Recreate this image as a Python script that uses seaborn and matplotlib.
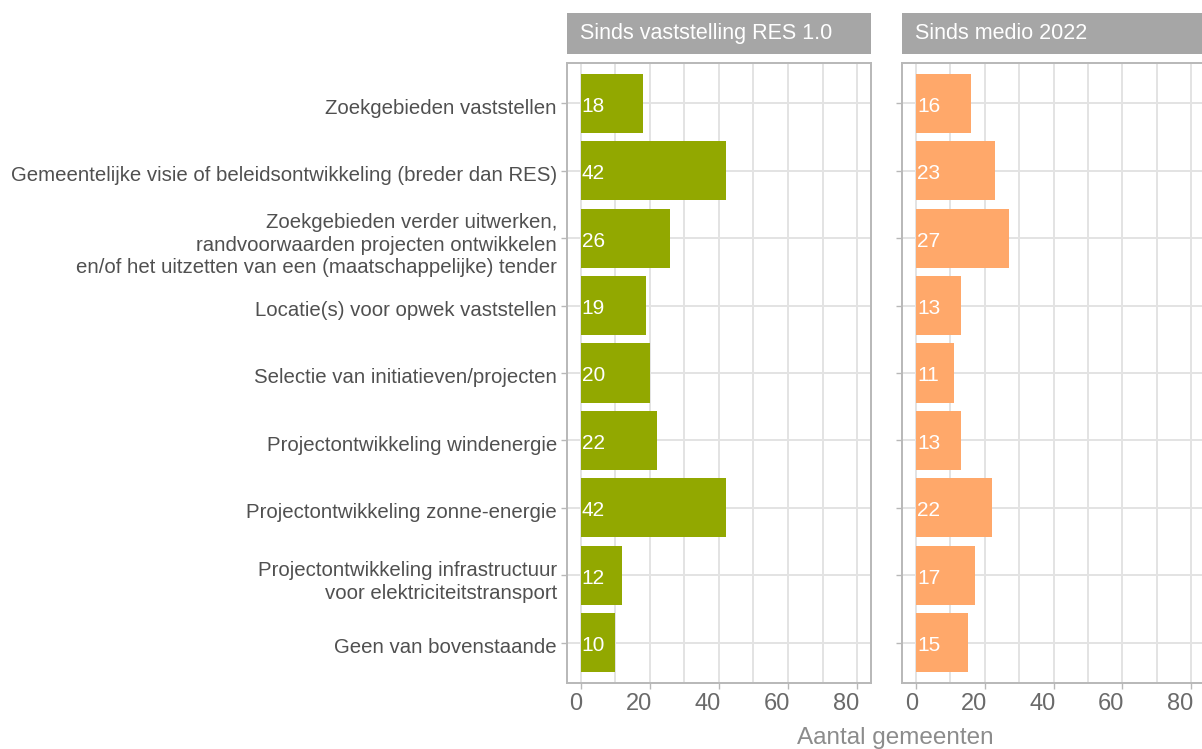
import numpy as np
import pandas as pd
import matplotlib
matplotlib.use("Agg")
import matplotlib.pyplot as plt
import matplotlib.transforms as mtransforms
from matplotlib.patches import Rectangle
import seaborn as sns

categories = [
    "Zoekgebieden vaststellen",
    "Gemeentelijke visie of beleidsontwikkeling (breder dan RES)",
    "Zoekgebieden verder uitwerken,\nrandvoorwaarden projecten ontwikkelen\nen/of het uitzetten van een (maatschappelijke) tender",
    "Locatie(s) voor opwek vaststellen",
    "Selectie van initiatieven/projecten",
    "Projectontwikkeling windenergie",
    "Projectontwikkeling zonne-energie",
    "Projectontwikkeling infrastructuur\nvoor elektriciteitstransport",
    "Geen van bovenstaande",
]
res_values = [18, 42, 26, 19, 20, 22, 42, 12, 10]
medio_values = [16, 23, 27, 13, 11, 13, 22, 17, 15]
panel_titles = ["Sinds vaststelling RES 1.0", "Sinds medio 2022"]
bar_colors = ["#92A800", "#FFA86A"]
x_ticks = [0, 20, 40, 60, 80]

sns.set_theme(style="white")
plt.rcParams["font.family"] = ["Liberation Sans", "DejaVu Sans"]

W, H = 1202, 749
fig = plt.figure(figsize=(W / 100, H / 100), dpi=100)

# panel boxes in pixels (left, right, top, bottom)
boxes = [(566.7, 871.0, 63, 683), (902.3, 1205.0, 63, 683)]
axes = []
for (l, r, t, b) in boxes:
    axes.append(fig.add_axes([l / W, (H - b) / H, (r - l) / W, (b - t) / H]))

grid_col = "#E3E3E3"
down = mtransforms.ScaledTranslation(0, -3 / 100, fig.dpi_scale_trans)
for i, (ax, vals) in enumerate(zip(axes, [res_values, medio_values])):
    df = pd.DataFrame({"cat": categories, "n": vals})
    sns.barplot(data=df, x="n", y="cat", order=categories, orient="h",
                color=bar_colors[i], saturation=1, width=0.88, linewidth=0,
                ax=ax, zorder=3)
    ax.set_xlim(-4, 84)
    ax.set_ylim(len(categories) - 0.4, -0.6)
    ax.set_xticks(x_ticks)
    ax.set_xticks([10, 30, 50, 70], minor=True)
    ax.grid(True, which="both", axis="x", color=grid_col, lw=1.4, zorder=0)
    ax.grid(True, which="major", axis="y", color=grid_col, lw=1.4, zorder=0)
    ax.set_axisbelow(True)
    for s in ax.spines.values():
        s.set_color("#B8B8B8")
        s.set_linewidth(1.4)
    ax.tick_params(axis="both", which="major", length=4, width=1, color="#B8B8B8",
                   bottom=True, left=True)
    ax.tick_params(axis="x", which="minor", length=0)
    ax.tick_params(axis="x", labelsize=17, labelcolor="#6A6A6A", pad=3)
    ax.tick_params(axis="y", labelsize=14.7, labelcolor="#505050", pad=3)
    # tick labels sit right-aligned on their ticks in the reference
    shift = mtransforms.ScaledTranslation(2 / 100, 0, fig.dpi_scale_trans)
    for lab in ax.get_xticklabels():
        lab.set_horizontalalignment("right")
        lab.set_transform(lab.get_transform() + shift)
    ax.set_xlabel("")
    ax.set_ylabel("")
    if i == 1:
        ax.set_yticklabels([])
    else:
        for lab in ax.get_yticklabels():
            lab.set_linespacing(1.25)
            lab.set_transform(lab.get_transform() + down)
    for j, v in enumerate(vals):
        t = ax.text(0.3, j, str(v), color="white", fontsize=15, ha="left", va="center", zorder=4)
        t.set_transform(ax.transData + down)
    # strip header
    ax.add_patch(Rectangle((0, 1 + 9 / 620), 1, 41.3 / 620, transform=ax.transAxes,
                           facecolor="#A6A6A6", edgecolor="none", clip_on=False))
    ax.text(13 / 305, 1 + (9 + 41.3 / 2) / 620, panel_titles[i], transform=ax.transAxes,
            color="white", fontsize=15.5, ha="left", va="center")

fig.text(895 / W, 1 - 738 / H, "Aantal gemeenten", color="#8C8C8C", fontsize=17.5,
         ha="center", va="center")

fig.savefig("out.png", dpi=100)
